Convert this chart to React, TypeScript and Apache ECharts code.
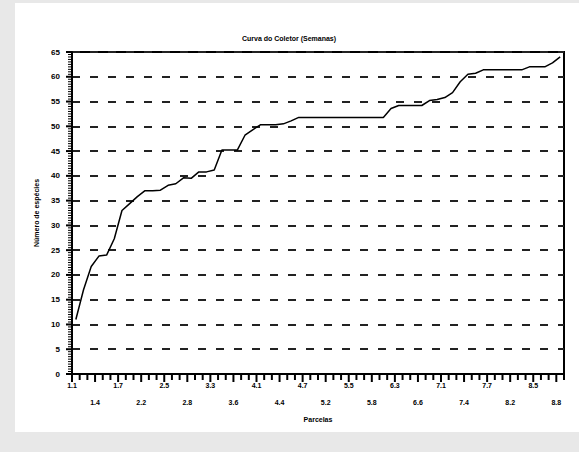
import React, { useEffect, useRef } from "react";
import * as echarts from "echarts";

const parcels = [1, 2, 3, 4, 5, 6, 7, 8];
const subplots = [1, 2, 3, 4, 5, 6, 7, 8];
const categories: string[] = [];
parcels.forEach((p) => subplots.forEach((s) => categories.push(`${p}.${s}`)));

const species = [
  11, 17, 21.7, 23.8, 24, 27.3, 33, 34.4,
  35.8, 37, 37, 37.1, 38.1, 38.4, 39.6, 39.5,
  40.8, 40.8, 41.2, 45.2, 45.2, 45.2, 48.2, 49.3,
  50.3, 50.3, 50.3, 50.5, 51.1, 51.8, 51.8, 51.8,
  51.8, 51.8, 51.8, 51.8, 51.8, 51.8, 51.8, 51.8,
  51.8, 53.6, 54.2, 54.2, 54.2, 54.2, 55.2, 55.4,
  55.8, 56.8, 59, 60.5, 60.7, 61.4, 61.4, 61.4,
  61.4, 61.4, 61.4, 62, 62, 62, 62.8, 64,
];

const yTicks = [0, 65, 5];
const yMinorStep = 0.5;

const titleText = "Curva do Coletor (Semanas)";
const yName = "Número de espécies";
const xName = "Parcelas";

export default function App() {
  const ref = useRef<HTMLDivElement>(null);
  useEffect(() => {
    if (!ref.current) return;
    const chart = echarts.init(ref.current, undefined, { renderer: "svg" });
    const font = "Liberation Sans";

    const xMajorTicks: number[][] = [];
    const xMinorTicks: number[][] = [];
    for (let i = 0; i <= categories.length; i++) {
      if (i % 3 === 0) xMajorTicks.push([i, yTicks[0]]);
      else xMinorTicks.push([i, yTicks[0]]);
    }
    const yMajorTicks: number[][] = [];
    const yMinorTicks: number[][] = [];
    const perMajor = Math.round(yTicks[2] / yMinorStep);
    for (let k = 0; yTicks[0] + k * yMinorStep <= yTicks[1] + 1e-9; k++) {
      const v = yTicks[0] + k * yMinorStep;
      if (k % perMajor === 0) yMajorTicks.push([0, v]);
      else yMinorTicks.push([0, v]);
    }

    const tickSeries = (data: number[][], size: number[], offset: number[]) => ({
      type: "scatter",
      data,
      symbol: "rect",
      symbolSize: size,
      symbolOffset: offset,
      clip: false,
      silent: true,
      z: 10,
      itemStyle: { color: "#000", opacity: 1 },
    });

    chart.setOption({
      animation: false,
      backgroundColor: "transparent",
      title: {
        text: titleText,
        left: 284,
        top: 30,
        textAlign: "center",
        textStyle: { fontSize: 7, fontWeight: "bold", color: "#000", fontFamily: font },
      },
      grid: {
        left: 72,
        top: 52,
        width: 492,
        height: 322,
        show: true,
        borderColor: "#000",
        borderWidth: 2,
        backgroundColor: "transparent",
      },
      xAxis: {
        type: "value",
        min: 0,
        max: categories.length,
        interval: 1,
        name: xName,
        nameLocation: "middle",
        nameGap: 38,
        nameTextStyle: { fontSize: 7, fontWeight: "bold", color: "#000", fontFamily: font },
        axisLine: { show: true, onZero: false, lineStyle: { color: "#000", width: 2 } },
        axisTick: { show: false },
        splitLine: { show: false },
        axisLabel: {
          fontSize: 7,
          fontWeight: "bold",
          color: "#000",
          fontFamily: font,
          margin: 3,
          lineHeight: 17,
          showMaxLabel: false,
          formatter: (v: number) => {
            const i = Math.round(v);
            if (i % 3 !== 0 || i >= categories.length) return "";
            return (i / 3) % 2 === 1 ? "\n" + categories[i] : categories[i];
          },
        },
      },
      yAxis: {
        type: "value",
        min: yTicks[0],
        max: yTicks[1],
        interval: yTicks[2],
        name: yName,
        nameLocation: "middle",
        nameGap: 31,
        nameTextStyle: { fontSize: 7, fontWeight: "bold", color: "#000", fontFamily: font },
        axisLine: { show: true, onZero: false, lineStyle: { color: "#000", width: 2 } },
        axisTick: { show: false },
        axisLabel: { fontSize: 8, fontWeight: "bold", color: "#000", fontFamily: font, margin: 12 },
        splitLine: {
          show: true,
          lineStyle: { color: "#222", width: 2, type: [8, 10] },
        },
      },
      series: [
        {
          type: "line",
          data: species.map((v, i) => [i + 0.5, v]),
          showSymbol: false,
          symbol: "none",
          lineStyle: { color: "#000", width: 1.5 },
          z: 3,
        },
        tickSeries(xMajorTicks, [2, 7], [0, 4.5]),
        tickSeries(xMinorTicks, [2, 5], [0, 3.5]),
        tickSeries(yMajorTicks, [5, 2], [-3.5, 0]),
        tickSeries(yMinorTicks, [3, 1], [-2.5, 0]),
      ],
    });

    return () => chart.dispose();
  }, []);
  return (
    <div style={{ position: "fixed", left: 0, top: 0, width: 579, height: 452, background: "#e8e8e8" }}>
      <div style={{ position: "absolute", left: 15, top: 3, width: 564, height: 429, background: "#ffffff" }} />
      <div ref={ref} style={{ position: "absolute", left: 0, top: 0, width: 579, height: 452 }} />
    </div>
  );
}
